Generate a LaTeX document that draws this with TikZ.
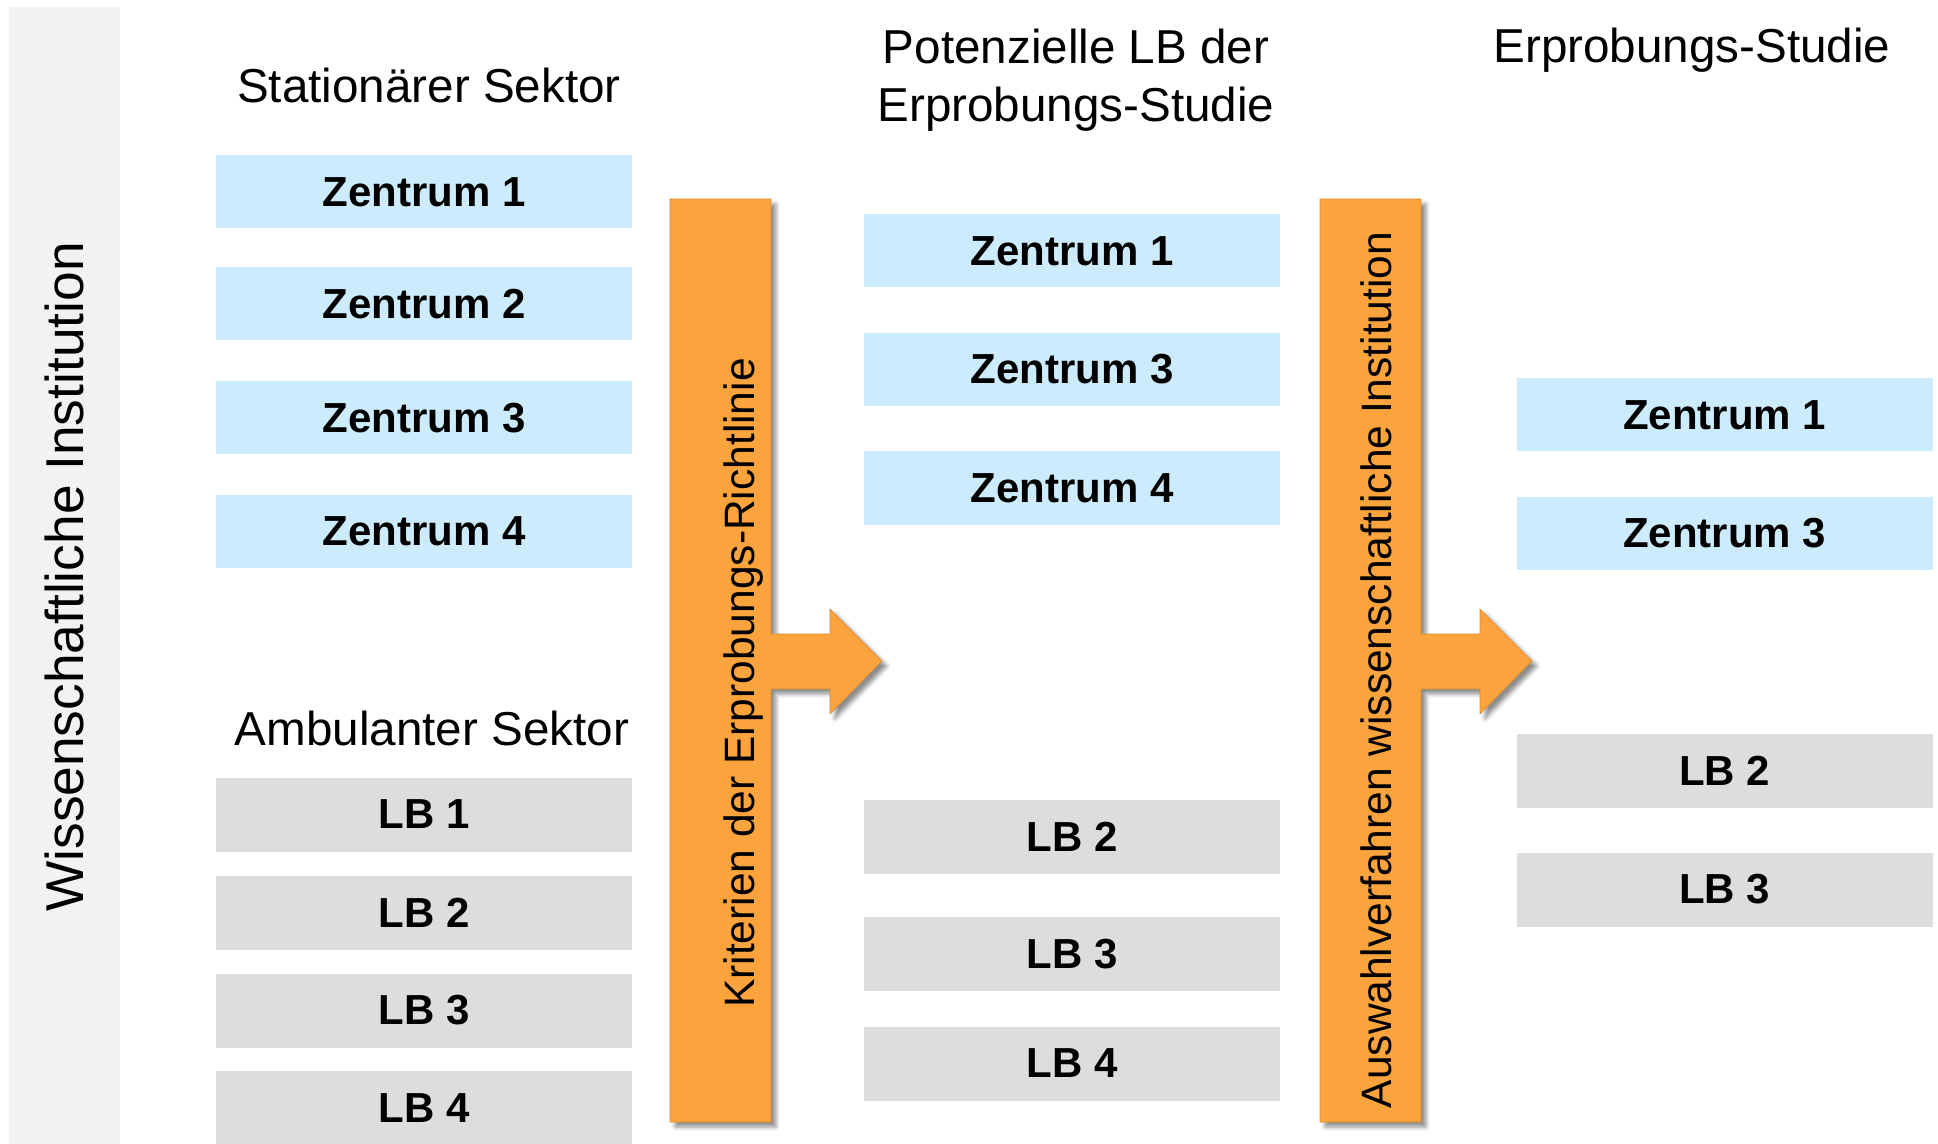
\documentclass[tikz,border=0pt]{standalone}
\usepackage{fontspec}
\setmainfont{Liberation Sans}
\usepackage{tikz}
\usetikzlibrary{shadows.blur}

\definecolor{zblue}{RGB}{204,235,252}
\definecolor{lbgray}{RGB}{221,221,221}
\definecolor{bandgray}{RGB}{242,242,242}
\definecolor{barorange}{RGB}{251,163,61}

\tikzset{
  zbox/.style={fill=zblue, minimum width=208pt, minimum height=36.5pt, inner sep=0pt,
    font=\fontsize{21}{24}\selectfont\bfseries},
  lbbox/.style={zbox, fill=lbgray, minimum height=37pt},
  coltitle/.style={inner sep=0pt, font=\fontsize{23.8}{29}\selectfont},
  bartext/.style={rotate=90, anchor=base, inner sep=0pt, font=\fontsize{21.25}{25}\selectfont},
  orangebar/.style={fill=barorange, draw=barorange!85!black, line width=0.3pt,
    blur shadow={shadow xshift=2.5pt, shadow yshift=-2.5pt, shadow blur radius=2pt, shadow opacity=45}}
}

\begin{document}
\begin{tikzpicture}[x=0.5pt,y=-0.5pt]
      \useasboundingbox (0,0) rectangle (1938,1144);
      % left band
      \fill[bandgray] (9,7) rectangle (120,1144);
      \node[bartext, font=\fontsize{26.65}{32}\selectfont] (inst) at (83,577) {Wissenschaftliche Institution};
      % stationaerer und ambulanter Sektor
      \node[coltitle, anchor=base] (stat) at (429,103) {Stationärer Sektor};
      \foreach \pos/\num in {192/1,304/2,418/3,531.5/4}
      \node[zbox] (sz\num) at (424,\pos) {Zentrum \num};
      \node[coltitle, anchor=base] (amb) at (432,745) {Ambulanter Sektor};
      \foreach \pos/\num in {814.5/1,912.5/2,1010.5/3,1108/4}
      \node[lbbox] (alb\num) at (424,\pos) {LB \num};
      % erster Filter
      \path[orangebar] (670,199) -- (771,199) -- (771,634) -- (830,634) -- (830,609) --
          (882,661) -- (830,714) -- (830,689) -- (771,689) -- (771,1122) -- (670,1122) -- cycle;
      \node[bartext] (krit) at (754,683) {Kriterien der Erprobungs-Richtlinie};
      % potenzielle LB
      \node[coltitle, align=center] (pot) at (1076,80) {Potenzielle LB der\\Erprobungs-Studie};
      \foreach \pos/\num in {251/1,369.5/3,488/4}
      \node[zbox] (pz\num) at (1072,\pos) {Zentrum \num};
      \foreach \pos/\num in {837/2,954/3,1063.5/4}
      \node[lbbox] (plb\num) at (1072,\pos) {LB \num};
      % zweiter Filter
      \path[orangebar] (1320,199) -- (1421,199) -- (1421,634) -- (1480,634) -- (1480,609) --
          (1532,661) -- (1480,714) -- (1480,689) -- (1421,689) -- (1421,1122) -- (1320,1122) -- cycle;
      \node[bartext] (ausw) at (1391,670) {Auswahlverfahren wissenschaftliche Institution};
      % Studie
      \node[coltitle, anchor=base] (stud) at (1692,63) {Erprobungs-Studie};
      \foreach \pos/\num in {415/1,533/3}
      \node[zbox] (ez\num) at (1724.5,\pos) {Zentrum \num};
      \foreach \pos/\num in {771/2,889.5/3}
      \node[lbbox] (elb\num) at (1724.5,\pos) {LB \num};
\end{tikzpicture}
\end{document}
